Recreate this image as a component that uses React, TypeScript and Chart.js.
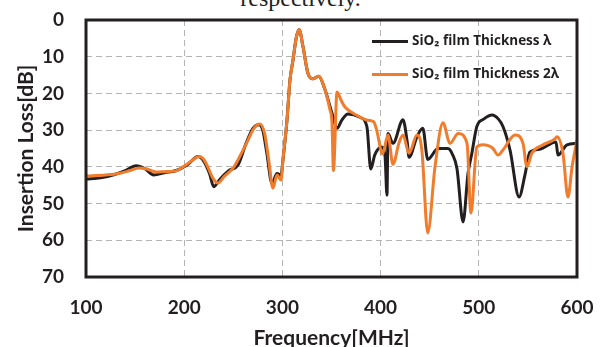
import React, { useEffect, useRef } from "react";
import { Chart, registerables } from "chart.js";

Chart.register(...registerables);

const seriesNames = ["SiO\u2082 film Thickness \u03bb", "SiO\u2082 film Thickness 2\u03bb"];
const xTicks = [100, 200, 300, 400, 500, 600];
const yTicks = [0, 10, 20, 30, 40, 50, 60, 70];

const blackFreq = [100, 115, 130, 140, 151, 160, 169, 180, 192, 203, 214, 220, 226, 230, 236, 245.6, 254.8, 263, 270, 276, 280, 284, 289.4, 294.5, 298.6, 300.6, 304.7, 307.7, 310.8, 314, 317, 321, 326, 331, 337, 343.4, 350.5, 355.6, 360.7, 366.8, 379, 386, 390, 394, 401, 404.5, 406.5, 407.5, 412.6, 422.8, 427, 429, 437, 443, 448, 458.5, 468.6, 473, 477.8, 484, 489, 493, 498, 505, 513.5, 520, 524.6, 531.8, 541, 547, 552, 562, 578.6, 580.6, 589.8, 600];
const blackLoss = [43.3, 43, 42, 41, 39.7, 40.5, 42.2, 41.6, 41, 39.5, 37.2, 38.5, 42, 45.4, 43.5, 41, 39.5, 33.6, 29.5, 28.5, 30, 36, 44.5, 41.8, 42.2, 38, 27.2, 16.4, 10.9, 5, 2.6, 7.3, 14.5, 16, 15.3, 19, 25.4, 29.5, 27.2, 25.6, 26.5, 29, 40.6, 36.8, 34.6, 37, 47.7, 30.9, 33.6, 27.2, 33, 37.4, 31.8, 29.5, 38, 35, 35, 36.5, 40.5, 55, 41.8, 36.2, 29, 27, 25.9, 27, 29, 35.4, 48.2, 42.2, 36, 35.2, 33.2, 36.8, 34, 33.6];

const orangeFreq = [100, 120, 133.6, 145, 154, 162, 171.3, 181, 191.6, 198.8, 207, 215, 220, 224, 229, 234.4, 240.5, 250.7, 260, 265, 271, 277, 282, 286, 290.4, 294.5, 298.6, 300.6, 304.7, 307.7, 310.8, 314, 317, 321, 326, 331, 337, 343.4, 348.5, 350.5, 352, 355.6, 360, 363.7, 376, 387, 393, 396, 402, 407.5, 412.6, 418.7, 422.8, 429, 437, 442, 448, 455.4, 463.5, 470.7, 479, 488, 492, 498, 504, 514.5, 519.5, 524.6, 537, 545, 549, 554, 565.4, 577.6, 579.6, 585.7, 590.8, 595, 600];
const orangeLoss = [42.5, 42.2, 41.8, 41, 40.3, 40.6, 41.4, 41.3, 41.1, 40, 38.5, 37.2, 38, 40, 43, 44.4, 42.7, 40, 35.4, 32.7, 29.5, 28.3, 31, 38, 45.8, 42.2, 43.6, 38, 27.2, 16.4, 10.9, 5, 2.6, 7.3, 14.5, 16, 15.3, 19, 24.5, 28, 41, 19.6, 22, 23.7, 26, 27.3, 27.7, 30, 36.5, 31.3, 39.3, 33.5, 31.3, 36.3, 31.3, 35.4, 58, 40, 28, 33.6, 30.9, 33.6, 52.6, 34.6, 34, 35, 36.8, 35.4, 31.3, 33.6, 40, 36.3, 34, 32.4, 31.8, 36.3, 48.2, 40, 32.7];

const BLACK = "#231f20";
const ORANGE = "#f07c2c";
const GRID = "#b4b4b4";
const FONT = "Lato, 'Open Sans', sans-serif";
const LEGEND_FONT = "'Open Sans', Lato, sans-serif";

const toPoints = (xs: number[], ys: number[]) => xs.map((x, i) => ({ x, y: ys[i] }));

const framePlugin = {
  id: "frameAndLegend",
  afterDraw(chart: any) {
    const { ctx, chartArea } = chart;
    ctx.save();
    ctx.strokeStyle = BLACK;
    ctx.lineWidth = 3;
    ctx.strokeRect(chartArea.left, chartArea.top, chartArea.right - chartArea.left, chartArea.bottom - chartArea.top);
    const colors = [BLACK, ORANGE];
    const rows = [41.5, 74.5];
    ctx.font = `bold 13.5px ${LEGEND_FONT}`;
    ctx.textBaseline = "middle";
    ctx.textAlign = "left";
    rows.forEach((y, i) => {
      ctx.strokeStyle = colors[i];
      ctx.lineWidth = 3;
      ctx.beginPath();
      ctx.moveTo(372, y);
      ctx.lineTo(408, y);
      ctx.stroke();
      ctx.fillStyle = BLACK;
      ctx.fillText(seriesNames[i], 412, y);
    });
    ctx.restore();
  },
};

export default function App() {
  const ref = useRef<HTMLCanvasElement | null>(null);
  useEffect(() => {
    if (!ref.current) return;
    const chart = new Chart(ref.current, {
      type: "line",
      data: {
        datasets: [
          {
            label: seriesNames[0],
            data: toPoints(blackFreq, blackLoss),
            borderColor: BLACK,
            borderWidth: 3,
            pointRadius: 0,
            cubicInterpolationMode: "monotone",
            fill: false,
            order: 2,
          },
          {
            label: seriesNames[1],
            data: toPoints(orangeFreq, orangeLoss),
            borderColor: ORANGE,
            borderWidth: 3,
            pointRadius: 0,
            cubicInterpolationMode: "monotone",
            fill: false,
            order: 1,
          },
        ],
      },
      options: {
        responsive: false,
        animation: false,
        layout: { padding: { left: 0, right: 24, top: 20, bottom: 0 } },
        plugins: { legend: { display: false }, tooltip: { enabled: false } },
        scales: {
          x: {
            type: "linear",
            min: 100,
            max: 600,
            afterBuildTicks: (s: any) => {
              s.ticks = xTicks.map((v) => ({ value: v }));
            },
            afterFit: (s: any) => {
              s.height = 70;
            },
            ticks: {
              color: BLACK,
              font: { family: FONT, size: 19, weight: "bold" },
              padding: 0,
              maxRotation: 0,
            },
            grid: {
              drawTicks: true,
              tickLength: 19,
              tickColor: "rgba(0,0,0,0)",
              lineWidth: 1,
              color: (c: any) => (c.tick && (c.tick.value === 100 || c.tick.value === 600) ? "rgba(0,0,0,0)" : GRID),
            },
            border: { display: false, dash: [6, 4] },
            title: {
              display: true,
              text: "Frequency[MHz]",
              color: BLACK,
              font: { family: FONT, size: 21, weight: "bold", lineHeight: 0.8 },
              padding: { top: 0, bottom: 0 },
            },
          },
          y: {
            type: "linear",
            reverse: true,
            min: 0,
            max: 70,
            afterBuildTicks: (s: any) => {
              s.ticks = yTicks.map((v) => ({ value: v }));
            },
            afterFit: (s: any) => {
              s.width = 86;
            },
            ticks: {
              color: BLACK,
              font: { family: FONT, size: 19, weight: "bold" },
              padding: 0,
            },
            grid: {
              drawTicks: true,
              tickLength: 22,
              tickColor: "rgba(0,0,0,0)",
              lineWidth: 1,
              color: (c: any) => (c.tick && (c.tick.value === 0 || c.tick.value === 70) ? "rgba(0,0,0,0)" : GRID),
            },
            border: { display: false, dash: [6, 4] },
            title: {
              display: true,
              text: "Insertion Loss[dB]",
              color: BLACK,
              font: { family: FONT, size: 21, weight: "bold", lineHeight: 1.2 },
              padding: { top: 14, bottom: 0 },
            },
          },
        },
      },
      plugins: [framePlugin],
    } as any);
    return () => chart.destroy();
  }, []);

  return (
    <div style={{ position: "fixed", left: 0, top: 0, width: 601, height: 347, background: "#fff", overflow: "hidden" }}>
      <div
        style={{
          position: "absolute",
          left: 0,
          width: 601,
          top: -14,
          textAlign: "center",
          fontFamily: "'Liberation Serif', 'Times New Roman', serif",
          fontSize: 24,
          lineHeight: "24px",
          color: "#222",
        }}
      >
        respectively.
      </div>
      <canvas ref={ref} width={601} height={347} style={{ position: "absolute", left: 0, top: 0, display: "block" }} />
    </div>
  );
}
